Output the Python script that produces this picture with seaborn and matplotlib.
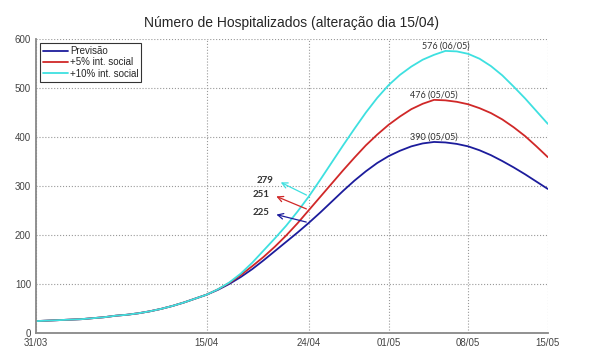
import matplotlib
matplotlib.use("Agg")
import matplotlib.pyplot as plt
import seaborn as sns
import pandas as pd

# days since 31/03
tick_days = [0, 15, 24, 31, 38, 45]
tick_labels = ["31/03", "15/04", "24/04", "01/05", "08/05", "15/05"]

# shared part of the curve, days 0..15
base = [24, 25, 26, 27, 28, 30, 32, 35, 37, 40, 44, 49, 55, 62, 70, 78]
# days 16..45 for each scenario
prev = [88, 100, 114, 130, 148, 167, 186, 205, 225, 246, 268, 290, 311, 330,
        347, 361, 372, 381, 387, 390, 389, 386, 381, 373, 363, 351, 338, 324, 309, 294]
mais5 = [89, 102, 118, 136, 155, 176, 199, 224, 251, 278, 305, 332, 358, 383,
         405, 425, 442, 457, 468, 476, 475, 472, 467, 459, 449, 436, 420, 402, 381, 359]
mais10 = [89, 103, 121, 143, 168, 193, 219, 248, 279, 313, 348, 383, 417, 450,
          480, 506, 527, 544, 558, 568, 576, 575, 570, 560, 545, 526, 503, 479, 453, 427]

names = ["Previsão", "+5% int. social", "+10% int. social"]
colors = ["#1c1c9c", "#d02828", "#3ee0e0"]

frames = []
for nome, vals in zip(names, [prev, mais5, mais10]):
    y = base + vals
    frames.append(pd.DataFrame({"dia": range(len(y)), "hosp": y, "cenario": nome}))
df = pd.concat(frames, ignore_index=True)

# value labels
marcas_dia = 24
marcas_val = [225, 251, 279]
picos = [(35, 390, "390 (05/05)"), (35, 476, "476 (05/05)"), (36, 576, "576 (06/05)")]

sns.set_style("white")
plt.rcParams["font.family"] = ["Liberation Sans", "DejaVu Sans"]

fig = plt.figure(figsize=(6, 3.56), dpi=100)
ax = fig.add_axes([0.06, 0.065, 0.853, 0.825])

sns.lineplot(data=df, x="dia", y="hosp", hue="cenario", hue_order=names,
             palette=colors, linewidth=1.3, ax=ax)

ax.set_xlim(0, 45)
ax.set_ylim(0, 600)
ax.set_xticks(tick_days)
ax.set_xticklabels(tick_labels)
ax.set_yticks([0, 100, 200, 300, 400, 500, 600])
ax.tick_params(direction="in", labelsize=7, colors="#555555", length=3,
               labelcolor="#444444")
ax.set_xlabel("")
ax.set_ylabel("")
ax.grid(True, linestyle=":", color="#999999", linewidth=0.8)
for s in ["top", "right"]:
    ax.spines[s].set_visible(False)
for s in ["left", "bottom"]:
    ax.spines[s].set_color("#888888")
    ax.spines[s].set_linewidth(1.3)

ax.set_title("Número de Hospitalizados (alteração dia 15/04)", fontsize=10, pad=9)

leg = ax.legend(loc="upper left", fontsize=7, frameon=True, fancybox=False,
                handlelength=2.6, borderpad=0.3, labelspacing=0.15,
                borderaxespad=0.4, handletextpad=0.2)
leg.get_frame().set_edgecolor("black")
leg.get_frame().set_linewidth(0.8)

offs = [(20.9, 243), (20.9, 281), (21.3, 310)]
for v, c, (tx, ty) in zip(marcas_val, colors, offs):
    ax.annotate("", xy=(tx, ty), xytext=(marcas_dia, v),
                arrowprops=dict(arrowstyle="->", color=c, lw=0.9))
    ax.text(tx - 0.4, ty + 2, str(v), ha="right", va="center", fontsize=7,
            color="#333333", fontweight="bold", family=["Lato", "DejaVu Sans"])

for d, v, lab in picos:
    ax.text(d, v + 1, lab, ha="center", va="bottom", fontsize=6.5,
            color="#333333", family=["Lato", "DejaVu Sans"])

fig.savefig("out.png", dpi=100)
